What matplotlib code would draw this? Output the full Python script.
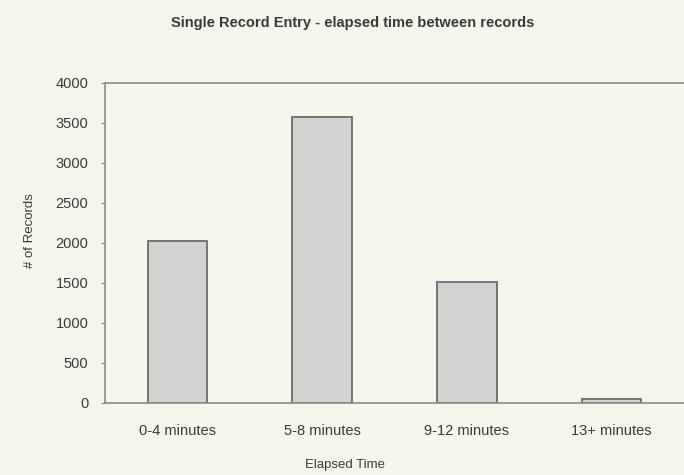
import matplotlib.pyplot as plt
import numpy as np

plt.rcParams['font.family'] = ['Liberation Sans', 'DejaVu Sans']

# Data
categories = ['0-4 minutes', '5-8 minutes', '9-12 minutes', '13+ minutes']
records = [2020, 3570, 1510, 50]
y_ticks = [0, 500, 1000, 1500, 2000, 2500, 3000, 3500, 4000]

bg = '#f5f5ec'
text_col = '#3a3a3a'

fig = plt.figure(figsize=(6.84, 4.75), dpi=100, facecolor=bg)
ax = fig.add_axes([0.1535, 0.1516, 0.8465, 0.6737], facecolor=bg)

x = np.arange(len(categories))
ax.bar(x, records, width=0.41, color='#d0d3cf', edgecolor='#6a6c6a', linewidth=1.3)

ax.set_xlim(-0.5, len(categories) - 0.5)
ax.set_ylim(0, 4000)
ax.set_yticks(y_ticks)
ax.set_xticks(x)
ax.set_xticklabels(categories)

for side in ['left', 'bottom', 'top']:
    ax.spines[side].set_color('#8a8c8a')
    ax.spines[side].set_linewidth(1.2)
ax.spines['right'].set_visible(False)

ax.tick_params(axis='y', length=3, color='#8a8c8a', labelsize=10.5,
               labelcolor=text_col, pad=9)
ax.tick_params(axis='x', length=0, labelsize=10.5, labelcolor=text_col, pad=15)

fig.text(0.044, 0.514, '# of Records', ha='center', va='center', rotation=90,
         fontsize=9.5, color=text_col)
fig.text(0.505, 0.021, 'Elapsed Time', ha='center', va='center',
         fontsize=9.5, color=text_col)
fig.text(0.515, 0.952, 'Single Record Entry - elapsed time between records',
         ha='center', va='center', fontsize=10.5, fontweight='bold', color=text_col)

fig.savefig('out.png', dpi=100, facecolor=bg)
